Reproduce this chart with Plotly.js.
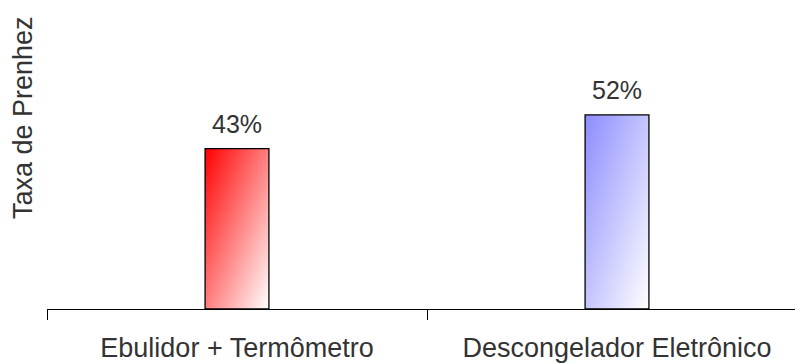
<!DOCTYPE html>
<html>
<head>
<meta charset="utf-8">
<script src="https://cdn.plot.ly/plotly-3.0.1.min.js"></script>
<style>
  html, body { margin: 0; padding: 0; background: #ffffff; }
  #chart { width: 795px; height: 363px; }
</style>
</head>
<body>
<div id="chart"></div>
<script>
// Pregnancy rate by thawing method
const categories = ['Ebulidor + Termômetro', 'Descongelador Eletrônico'];
const rates = [43, 52];
const axisTitle = 'Taxa de Prenhez';

// Bar fill gradients: strong colour at the top-left corner fading to white
const gradients = [
  { id: 'fadeRed',  from: '#ff0000', to: '#ffffff' },
  { id: 'fadeBlue', from: '#8c8cff', to: '#ffffff' }
];

const textColor = '#333333';
const font = 'Liberation Sans, Arial, sans-serif';

const trace = {
  type: 'bar',
  x: categories,
  y: rates,
  width: 0.168,
  marker: {
    color: gradients.map(g => g.from),
    line: { color: '#000000', width: 1.3 }
  },
  hoverinfo: 'skip'
};

// Value labels above each bar, built from the same rates
const valueLabels = categories.map((c, i) => ({
  x: c,
  y: rates[i],
  xref: 'x',
  yref: 'y',
  text: rates[i] + '%',
  showarrow: false,
  xanchor: 'center',
  yanchor: 'bottom',
  yshift: 9,
  font: { family: font, size: 25, color: textColor }
}));

const layout = {
  width: 795,
  height: 363,
  margin: { l: 47, r: 0, t: 0, b: 54 },
  paper_bgcolor: '#ffffff',
  plot_bgcolor: '#ffffff',
  showlegend: false,
  bargap: 0,
  xaxis: {
    type: 'category',
    range: [-0.5, 1.4684],
    tickson: 'boundaries',
    ticks: 'outside',
    ticklen: 10,
    tickwidth: 1,
    tickcolor: '#000000',
    showline: true,
    linecolor: '#000000',
    linewidth: 1,
    showgrid: false,
    zeroline: false,
    ticklabelstandoff: 15,
    tickfont: { family: font, size: 27, color: textColor },
    fixedrange: true
  },
  yaxis: {
    range: [0, 82.8],
    visible: false,
    fixedrange: true
  },
  annotations: valueLabels.concat([{
    xref: 'paper',
    yref: 'paper',
    x: -0.0321,
    y: 0.621,
    text: axisTitle,
    textangle: -90,
    showarrow: false,
    xanchor: 'center',
    yanchor: 'middle',
    font: { family: font, size: 27, color: textColor }
  }])
};

const gd = document.getElementById('chart');

// Plotly has no gradient bar fill, so attach SVG gradients to the drawn bars
function applyGradients() {
  const svg = gd.querySelector('svg.main-svg');
  if (!svg) return;
  let defs = svg.querySelector('defs');
  if (!defs) {
    defs = document.createElementNS('http://www.w3.org/2000/svg', 'defs');
    svg.insertBefore(defs, svg.firstChild);
  }
  gradients.forEach(g => {
    if (defs.querySelector('#' + g.id)) return;
    const lg = document.createElementNS('http://www.w3.org/2000/svg', 'linearGradient');
    lg.setAttribute('id', g.id);
    lg.setAttribute('x1', '0'); lg.setAttribute('y1', '0');
    lg.setAttribute('x2', '1'); lg.setAttribute('y2', '1');
    [[0, g.from], [1, g.to]].forEach(([off, col]) => {
      const stop = document.createElementNS('http://www.w3.org/2000/svg', 'stop');
      stop.setAttribute('offset', off);
      stop.setAttribute('stop-color', col);
      lg.appendChild(stop);
    });
    defs.appendChild(lg);
  });
  gd.querySelectorAll('.bars .point path').forEach((p, i) => {
    const g = gradients[i % gradients.length];
    p.style.fill = 'url(#' + g.id + ')';
    p.style.fillOpacity = 1;
  });
}

Plotly.newPlot(gd, [trace], layout, { displayModeBar: false, staticPlot: true })
  .then(() => {
    applyGradients();
    gd.on('plotly_afterplot', applyGradients);
  });
</script>
</body>
</html>
